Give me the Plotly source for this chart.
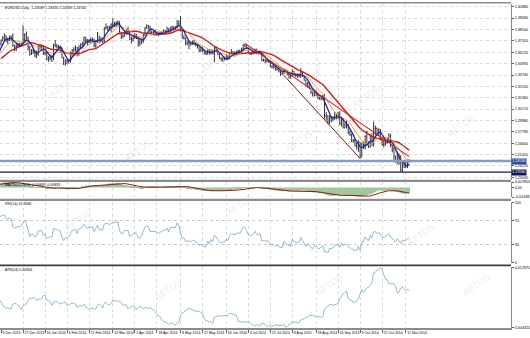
import numpy as np
import pandas as pd
import plotly.graph_objects as go
from plotly.subplots import make_subplots

# ---------------- data (EURUSD daily) ----------------
start_date = "2013-11-11"
end_date = "2014-11-13"
holidays = ["2013-12-25", "2014-01-01"]
n_pre = 20  # bars before the first visible bar (9 Dec 2013)

high = [
    # Nov 11 - Dec 6 2013 (off screen)
    1.3440, 1.3445, 1.3475, 1.3480, 1.3500, 1.3530, 1.3550, 1.3545, 1.3485, 1.3565,
    1.3570, 1.3575, 1.3620, 1.3615, 1.3620, 1.3600, 1.3600, 1.3620, 1.3680, 1.3710,
    # Dec 2013
    1.3745, 1.3780, 1.3810, 1.3790, 1.3765, 1.3785, 1.3790, 1.3810, 1.3690, 1.3705,
    1.3710, 1.3710, 1.3710, 1.3893, 1.3810, 1.3830,
    # Jan 2014
    1.3775, 1.3680, 1.3645, 1.3650, 1.3635, 1.3630, 1.3685, 1.3700, 1.3695, 1.3685,
    1.3630, 1.3625, 1.3570, 1.3590, 1.3580, 1.3700, 1.3740, 1.3700, 1.3690, 1.3680,
    1.3665, 1.3565,
    # Feb
    1.3540, 1.3535, 1.3545, 1.3620, 1.3645, 1.3665, 1.3685, 1.3665, 1.3685, 1.3705,
    1.3720, 1.3775, 1.3770, 1.3750, 1.3750, 1.3770, 1.3765, 1.3755, 1.3740, 1.3825,
    # Mar
    1.3785, 1.3775, 1.3765, 1.3875, 1.3915, 1.3885, 1.3890, 1.3915, 1.3967, 1.3930,
    1.3935, 1.3945, 1.3935, 1.3825, 1.3810, 1.3845, 1.3850, 1.3880, 1.3825, 1.3775,
    1.3785,
    # Apr
    1.3815, 1.3805, 1.3780, 1.3750, 1.3740, 1.3805, 1.3875, 1.3905, 1.3895, 1.3890,
    1.3840, 1.3835, 1.3850, 1.3820, 1.3815, 1.3820, 1.3835, 1.3850, 1.3845, 1.3880,
    1.3865, 1.3880,
    # May
    1.3890, 1.3885, 1.3885, 1.3950, 1.3945, 1.3993, 1.3845, 1.3790, 1.3765, 1.3735,
    1.3735, 1.3715, 1.3735, 1.3740, 1.3715, 1.3700, 1.3665, 1.3665, 1.3665, 1.3640,
    1.3620, 1.3640,
    # Jun
    1.3645, 1.3645, 1.3640, 1.3670, 1.3675, 1.3640, 1.3600, 1.3560, 1.3565, 1.3565,
    1.3595, 1.3585, 1.3610, 1.3645, 1.3625, 1.3620, 1.3630, 1.3640, 1.3640, 1.3660,
    1.3695,
    # Jul
    1.3700, 1.3690, 1.3660, 1.3615, 1.3615, 1.3635, 1.3650, 1.3650, 1.3620, 1.3630,
    1.3620, 1.3545, 1.3545, 1.3535, 1.3530, 1.3525, 1.3475, 1.3490, 1.3470, 1.3455,
    1.3445, 1.3415, 1.3410,
    # Aug
    1.3445, 1.3440, 1.3430, 1.3395, 1.3395, 1.3435, 1.3415, 1.3395, 1.3390, 1.3390,
    1.3445, 1.3415, 1.3370, 1.3325, 1.3300, 1.3300, 1.3215, 1.3200, 1.3200, 1.3210,
    1.3190,
    # Sep
    1.3145, 1.3145, 1.3165, 1.3175, 1.2985, 1.2955, 1.2950, 1.2945, 1.2945, 1.2985,
    1.2965, 1.2990, 1.2995, 1.2925, 1.2925, 1.2870, 1.2900, 1.2860, 1.2790, 1.2760,
    1.2705, 1.2705,
    # Oct
    1.2665, 1.2695, 1.2675, 1.2665, 1.2680, 1.2745, 1.2790, 1.2680, 1.2750, 1.2765,
    1.2887, 1.2845, 1.2825, 1.2815, 1.2810, 1.2720, 1.2685, 1.2695, 1.2720, 1.2765,
    1.2760, 1.2640, 1.2615,
    # Nov
    1.2530, 1.2575, 1.2555, 1.2535, 1.2470, 1.2460, 1.2475, 1.2490, 1.2492,
]

low = [
    1.3365, 1.3390, 1.3400, 1.3425, 1.3430, 1.3475, 1.3475, 1.3400, 1.3400, 1.3465,
    1.3510, 1.3505, 1.3555, 1.3570, 1.3570, 1.3515, 1.3525, 1.3545, 1.3580, 1.3600,
    # Dec 2013
    1.3680, 1.3725, 1.3740, 1.3720, 1.3700, 1.3730, 1.3730, 1.3670, 1.3625, 1.3625,
    1.3665, 1.3670, 1.3670, 1.3700, 1.3730, 1.3750,
    # Jan
    1.3630, 1.3575, 1.3585, 1.3595, 1.3560, 1.3550, 1.3575, 1.3640, 1.3630, 1.3585,
    1.3580, 1.3530, 1.3510, 1.3525, 1.3510, 1.3530, 1.3665, 1.3650, 1.3640, 1.3620,
    1.3550, 1.3480,
    # Feb
    1.3475, 1.3490, 1.3495, 1.3505, 1.3560, 1.3615, 1.3620, 1.3570, 1.3575, 1.3655,
    1.3670, 1.3680, 1.3715, 1.3685, 1.3705, 1.3705, 1.3715, 1.3665, 1.3645, 1.3710,
    # Mar
    1.3705, 1.3715, 1.3705, 1.3720, 1.3850, 1.3835, 1.3840, 1.3825, 1.3860, 1.3875,
    1.3875, 1.3890, 1.3815, 1.3750, 1.3760, 1.3775, 1.3795, 1.3800, 1.3740, 1.3705,
    1.3725,
    # Apr
    1.3750, 1.3750, 1.3670, 1.3675, 1.3700, 1.3710, 1.3785, 1.3855, 1.3850, 1.3805,
    1.3790, 1.3790, 1.3800, 1.3800, 1.3780, 1.3790, 1.3795, 1.3805, 1.3800, 1.3815,
    1.3805, 1.3805,
    # May
    1.3840, 1.3830, 1.3845, 1.3865, 1.3890, 1.3830, 1.3755, 1.3745, 1.3685, 1.3685,
    1.3645, 1.3680, 1.3690, 1.3685, 1.3670, 1.3650, 1.3615, 1.3615, 1.3615, 1.3590,
    1.3585, 1.3585,
    # Jun
    1.3590, 1.3590, 1.3590, 1.3505, 1.3615, 1.3580, 1.3540, 1.3520, 1.3510, 1.3525,
    1.3530, 1.3530, 1.3540, 1.3590, 1.3590, 1.3575, 1.3585, 1.3595, 1.3595, 1.3600,
    1.3630,
    # Jul
    1.3665, 1.3645, 1.3595, 1.3585, 1.3585, 1.3590, 1.3600, 1.3590, 1.3590, 1.3595,
    1.3520, 1.3515, 1.3500, 1.3505, 1.3500, 1.3455, 1.3440, 1.3440, 1.3420, 1.3420,
    1.3400, 1.3365, 1.3375,
    # Aug
    1.3380, 1.3405, 1.3370, 1.3335, 1.3335, 1.3365, 1.3365, 1.3355, 1.3345, 1.3350,
    1.3345, 1.3355, 1.3315, 1.3255, 1.3240, 1.3225, 1.3175, 1.3150, 1.3150, 1.3155,
    1.3125,
    # Sep
    1.3115, 1.3110, 1.3110, 1.2920, 1.2900, 1.2860, 1.2860, 1.2880, 1.2890, 1.2905,
    1.2910, 1.2915, 1.2850, 1.2835, 1.2815, 1.2815, 1.2815, 1.2755, 1.2735, 1.2670,
    1.2665, 1.2625,
    # Oct
    1.2595, 1.2570, 1.2501, 1.2515, 1.2600, 1.2595, 1.2645, 1.2610, 1.2615, 1.2630,
    1.2625, 1.2745, 1.2735, 1.2735, 1.2690, 1.2635, 1.2615, 1.2635, 1.2655, 1.2690,
    1.2620, 1.2565, 1.2485,
    # Nov
    1.2455, 1.2440, 1.2435, 1.2365, 1.2358, 1.2400, 1.2405, 1.2400, 1.2459,
]

close = [
    1.3420, 1.3435, 1.3460, 1.3465, 1.3495, 1.3505, 1.3540, 1.3435, 1.3470, 1.3555,
    1.3520, 1.3570, 1.3580, 1.3600, 1.3590, 1.3530, 1.3590, 1.3590, 1.3665, 1.3705,
    # Dec 2013
    1.3740, 1.3760, 1.3780, 1.3745, 1.3740, 1.3770, 1.3760, 1.3680, 1.3665, 1.3675,
    1.3690, 1.3690, 1.3700, 1.3745, 1.3800, 1.3765,
    # Jan
    1.3670, 1.3590, 1.3630, 1.3615, 1.3575, 1.3590, 1.3665, 1.3670, 1.3675, 1.3600,
    1.3615, 1.3540, 1.3545, 1.3560, 1.3555, 1.3690, 1.3675, 1.3670, 1.3665, 1.3655,
    1.3555, 1.3485,
    # Feb
    1.3525, 1.3515, 1.3535, 1.3590, 1.3635, 1.3640, 1.3660, 1.3590, 1.3670, 1.3690,
    1.3705, 1.3770, 1.3740, 1.3715, 1.3740, 1.3735, 1.3745, 1.3680, 1.3730, 1.3805,
    # Mar
    1.3735, 1.3740, 1.3730, 1.3865, 1.3875, 1.3880, 1.3860, 1.3905, 1.3905, 1.3915,
    1.3925, 1.3930, 1.3825, 1.3775, 1.3780, 1.3830, 1.3825, 1.3830, 1.3745, 1.3750,
    1.3770,
    # Apr
    1.3795, 1.3765, 1.3710, 1.3705, 1.3730, 1.3795, 1.3870, 1.3890, 1.3885, 1.3815,
    1.3815, 1.3820, 1.3815, 1.3810, 1.3795, 1.3805, 1.3815, 1.3830, 1.3830, 1.3855,
    1.3815, 1.3870,
    # May
    1.3870, 1.3870, 1.3875, 1.3930, 1.3910, 1.3835, 1.3760, 1.3760, 1.3705, 1.3710,
    1.3710, 1.3695, 1.3710, 1.3705, 1.3685, 1.3665, 1.3630, 1.3635, 1.3635, 1.3595,
    1.3595, 1.3635,
    # Jun
    1.3595, 1.3630, 1.3595, 1.3660, 1.3640, 1.3595, 1.3545, 1.3535, 1.3545, 1.3540,
    1.3570, 1.3545, 1.3600, 1.3615, 1.3605, 1.3605, 1.3610, 1.3625, 1.3615, 1.3645,
    1.3690,
    # Jul
    1.3680, 1.3655, 1.3610, 1.3595, 1.3605, 1.3615, 1.3640, 1.3610, 1.3605, 1.3615,
    1.3525, 1.3530, 1.3520, 1.3525, 1.3515, 1.3460, 1.3465, 1.3460, 1.3430, 1.3440,
    1.3410, 1.3395, 1.3390,
    # Aug
    1.3430, 1.3415, 1.3380, 1.3375, 1.3360, 1.3410, 1.3380, 1.3370, 1.3360, 1.3365,
    1.3400, 1.3365, 1.3320, 1.3260, 1.3285, 1.3240, 1.3195, 1.3165, 1.3190, 1.3180,
    1.3130,
    # Sep
    1.3125, 1.3135, 1.3150, 1.2945, 1.2950, 1.2890, 1.2940, 1.2915, 1.2925, 1.2960,
    1.2945, 1.2960, 1.2865, 1.2920, 1.2830, 1.2850, 1.2850, 1.2770, 1.2750, 1.2685,
    1.2685, 1.2630,
    # Oct
    1.2620, 1.2670, 1.2515, 1.2650, 1.2645, 1.2730, 1.2655, 1.2625, 1.2735, 1.2655,
    1.2815, 1.2815, 1.2760, 1.2800, 1.2710, 1.2645, 1.2650, 1.2670, 1.2700, 1.2735,
    1.2630, 1.2610, 1.2525,
    # Nov
    1.2480, 1.2545, 1.2485, 1.2375, 1.2450, 1.2410, 1.2420, 1.2459, 1.2474,
]

header_values = ["1.24589", "1.24920", "1.24589", "1.24740"]
bid_price = 1.24740
low_line_price = 1.23580

price_ticks = [1.40880, 1.39690, 1.38500, 1.37310, 1.36120, 1.34930, 1.33740, 1.32550,
               1.31360, 1.30170, 1.28980, 1.27790, 1.26600, 1.25410, 1.24220, 1.23030]

date_labels = ["9 Dec 2013", "27 Dec 2013", "16 Jan 2014", "4 Feb 2014", "21 Feb 2014",
               "13 Mar 2014", "1 Apr 2014", "18 Apr 2014", "8 May 2014", "27 May 2014",
               "16 Jun 2014", "3 Jul 2014", "22 Jul 2014", "8 Aug 2014", "28 Aug 2014",
               "16 Sep 2014", "3 Oct 2014", "22 Oct 2014", "11 Nov 2014"]

# drawn trend lines: (bar date, price) pairs
trend_upper = [("2014-07-01", 1.3705), ("2014-11-13", 1.2520)]
trend_lower = [("2014-08-01", 1.3370), ("2014-10-03", 1.2501)]

# ---------------- derived ----------------
dates = pd.bdate_range(start_date, end_date)
dates = dates[~dates.isin(pd.to_datetime(holidays))]
assert len(dates) == len(close) == len(high) == len(low), (len(dates), len(close), len(high), len(low))

xs = np.arange(len(close)) - n_pre
c = pd.Series(close)
h = pd.Series(high)
l = pd.Series(low)
o = c.shift(1).fillna(c.iloc[0])

ma_fast = c.rolling(5).mean()
ma_mid = c.rolling(10).mean()
ma_slow = c.rolling(21).mean()

ema12 = c.ewm(span=12, adjust=False).mean()
ema26 = c.ewm(span=26, adjust=False).mean()
macd = ema12 - ema26
signal = macd.rolling(9).mean()

d = c.diff()
gain = d.clip(lower=0)
loss = (-d).clip(lower=0)
ag = gain.ewm(alpha=1 / 14, adjust=False).mean()
al = loss.ewm(alpha=1 / 14, adjust=False).mean()
rsi = 100 - 100 / (1 + ag / al)

prev_c = c.shift(1)
tr = pd.concat([h - l, (h - prev_c).abs(), (l - prev_c).abs()], axis=1).max(axis=1)
atr = tr.rolling(14).mean()

vis = xs >= 0

def idx_of(ds):
    return int(dates.get_loc(pd.Timestamp(ds))) - n_pre

tick_x = [idx_of(pd.to_datetime(s, format="%d %b %Y")) for s in date_labels]

# ---------------- geometry ----------------
W, H = 530, 338
MB = 10
PH = H - MB  # plot area height in px (top margin 0)
PW = 512

def py(ypx):
    return (PH - ypx) / PH

def px(xpx):
    return xpx / PW

px_per_bar = 409 / 241.0
x0 = -1 / px_per_bar
x1 = x0 + PW / px_per_bar

price_per_px = 0.00104
def price_at(ypx):
    return bid_price + (160 - ypx) * price_per_px

fig = make_subplots(rows=4, cols=1, shared_xaxes=True, vertical_spacing=0.0)

fig.add_trace(go.Ohlc(x=xs, open=o, high=h, low=l, close=c,
                      increasing=dict(line=dict(color="#333333", width=1)),
                      decreasing=dict(line=dict(color="#333333", width=1)),
                      tickwidth=0.3, hoverinfo="skip"), row=1, col=1)
fig.add_trace(go.Scatter(x=xs, y=ma_slow, mode="lines",
                         line=dict(color="#c81e1e", width=1.4)), row=1, col=1)
fig.add_trace(go.Scatter(x=xs, y=ma_mid, mode="lines",
                         line=dict(color="#f0a43a", width=1.0)), row=1, col=1)
fig.add_trace(go.Scatter(x=xs, y=ma_fast, mode="lines",
                         line=dict(color="#2323a8", width=1.3)), row=1, col=1)

fig.add_trace(go.Bar(x=xs, y=macd, marker=dict(color="#a3c69e", line=dict(width=0))), row=2, col=1)
fig.add_trace(go.Scatter(x=xs, y=signal, mode="lines",
                         line=dict(color="#8c1c1c", width=1)), row=2, col=1)

fig.add_trace(go.Scatter(x=xs, y=rsi, mode="lines",
                         line=dict(color="#86b0cc", width=0.9)), row=3, col=1)
fig.add_trace(go.Scatter(x=xs, y=atr, mode="lines",
                         line=dict(color="#86b4c8", width=0.9)), row=4, col=1)

# ranges
m_vis = pd.concat([macd[vis], signal[vis]])
m_mn, m_mx = float(m_vis.min()), float(m_vis.max())
a_mn, a_mx = float(atr[vis].min()), float(atr[vis].max())
m_pad = (m_mx - m_mn) * 0.01
a_pad = (a_mx - a_mn) * 0.01

FAM = "Liberation Sans, Arial, sans-serif"
tick_font = dict(family=FAM, size=3.7, color="#000000")

fig.update_xaxes(range=[x0, x1], tickvals=tick_x, ticktext=date_labels,
                 showgrid=True, gridcolor="#dadada", griddash="dot", gridwidth=1,
                 zeroline=False, rangeslider_visible=False, showline=False)
fig.update_xaxes(row=4, col=1, showticklabels=True, ticks="outside", ticklen=3,
                 tickcolor="#606060", ticklabelposition="outside right", tickangle=0,
                 tickfont=dict(family=FAM, size=3.5, color="#000000"),
                 showline=True, linecolor="#8c8c8c", linewidth=2)

common_y = dict(side="right", showline=True, linecolor="#8a8a8a", linewidth=1,
                ticks="outside", ticklen=2, tickcolor="#606060", tickfont=tick_font,
                zeroline=False)

fig.update_layout(
    width=W, height=H,
    margin=dict(l=0, r=W - PW, t=0, b=MB),
    plot_bgcolor="white", paper_bgcolor="white", showlegend=False,
    bargap=0.3,
    yaxis=dict(domain=[py(179), py(2)], range=[price_at(179), price_at(2)],
               tickvals=price_ticks, ticktext=[f"{v:.5f}" for v in price_ticks],
               showgrid=True, gridcolor="#dadada", griddash="dot", **common_y),
    yaxis2=dict(domain=[py(196.5), py(181)], range=[m_mn - m_pad, m_mx + m_pad],
                tickvals=[m_mx, 0, m_mn], ticktext=[f"{m_mx:.6f}", "0.00", f"{m_mn:.5f}"],
                showgrid=False, **common_y),
    yaxis3=dict(domain=[py(263), py(201)], range=[-1.0, 101.0],
                tickvals=[100, 70, 30, 0], ticktext=["100", "70", "30", "0"],
                showgrid=True, gridcolor="#cacaca", griddash="dot", **common_y),
    yaxis4=dict(domain=[py(328), py(266.5)], range=[a_mn - a_pad, a_mx + a_pad],
                tickvals=[a_mx, a_mn], ticktext=[f"{a_mx:.6f}", f"{a_mn:.6f}"],
                showgrid=False, **common_y),
)

shapes = []
# horizontal price lines
shapes.append(dict(type="line", xref="paper", yref="y", x0=0, x1=1, y0=bid_price, y1=bid_price,
                   line=dict(color="#8c9bb8", width=2.4)))
shapes.append(dict(type="line", xref="paper", yref="y", x0=0, x1=1, y0=low_line_price, y1=low_line_price,
                   line=dict(color="#121a3c", width=1.4)))
# trend lines
for pts, col, wd in [(trend_upper, "#cc2020", 1.1), (trend_lower, "#7a1616", 1.0)]:
    shapes.append(dict(type="line", xref="x", yref="y",
                       x0=idx_of(pts[0][0]), y0=pts[0][1], x1=idx_of(pts[1][0]), y1=pts[1][1],
                       line=dict(color=col, width=wd)))
# window separators
for ypx, col, wd in [(0.8, "#8c8c8c", 1.6), (180, "#8c8c8c", 2.2), (199, "#8c8c8c", 2.2),
                     (265, "#3c3c3c", 1.6)]:
    shapes.append(dict(type="line", xref="paper", yref="paper", x0=0, x1=1, y0=py(ypx), y1=py(ypx),
                       line=dict(color=col, width=wd)))
fig.update_layout(shapes=shapes)

ann = []
lab_font = dict(family=FAM, size=3.6, color="#000000")
ann.append(dict(xref="paper", yref="paper", x=px(3), y=py(6.5), xanchor="left", yanchor="middle",
                text="EURUSD,Daily  " + " ".join(header_values), showarrow=False, font=lab_font))
ann.append(dict(xref="paper", yref="paper", x=px(3), y=py(184), xanchor="left", yanchor="middle",
                text=f"MACD(12,26,9) {macd.iloc[-1]:.5f} {signal.iloc[-1]:.5f}", showarrow=False, font=lab_font))
ann.append(dict(xref="paper", yref="paper", x=px(3), y=py(203.5), xanchor="left", yanchor="middle",
                text=f"RSI(14) {rsi.iloc[-1]:.4f}", showarrow=False, font=lab_font))
ann.append(dict(xref="paper", yref="paper", x=px(3), y=py(269.5), xanchor="left", yanchor="middle",
                text=f"ATR(14) {atr.iloc[-1]:.5f}", showarrow=False, font=lab_font))
# price boxes on the right axis
ann.append(dict(xref="paper", yref="y", x=1.0, y=bid_price, xanchor="left", yanchor="middle",
                text=f"{bid_price:.5f}", showarrow=False, bgcolor="#2c4ca0", borderpad=0.3,
                font=dict(family=FAM, size=3.7, color="#ffffff")))
ann.append(dict(xref="paper", yref="y", x=1.0, y=low_line_price, xanchor="left", yanchor="middle",
                text=f"{low_line_price:.5f}", showarrow=False, bgcolor="#0c1650", borderpad=0.3,
                font=dict(family=FAM, size=3.7, color="#ffffff")))
# faint watermarks
for wx, wy in [(45, 70), (215, 45), (385, 80), (120, 150), (300, 140), (480, 125),
               (60, 235), (240, 220), (440, 250), (150, 305), (330, 300), (495, 300)]:
    ann.append(dict(xref="paper", yref="paper", x=px(wx), y=py(wy), text="AETOS", showarrow=False,
                    textangle=-35, font=dict(family="DejaVu Sans", size=9, color="rgba(190,190,190,0.28)")))
fig.update_layout(annotations=ann)

fig.write_html("out.html")
